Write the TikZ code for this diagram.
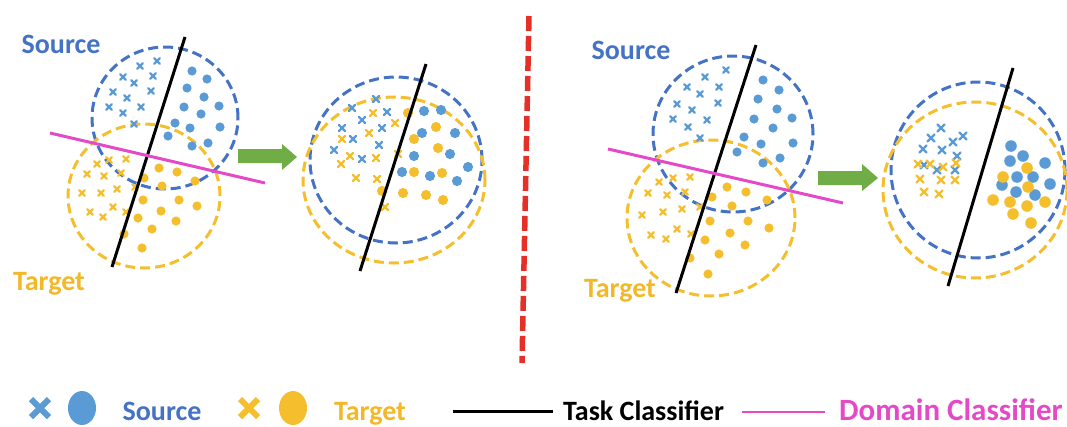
\documentclass[tikz,border=0pt]{standalone}
\usepackage{fontspec}
\setmainfont{Carlito}
\definecolor{ringblue}{RGB}{68,114,196}
\definecolor{srcblue}{RGB}{91,155,213}
\definecolor{tgtyellow}{RGB}{245,190,45}
\definecolor{txtyellow}{RGB}{242,184,40}
\definecolor{domainpink}{RGB}{228,74,200}
\definecolor{arrowgreen}{RGB}{112,173,71}
\definecolor{splitred}{RGB}{228,48,40}
% x marks and filled dots from a list of points
\newcommand\xmarks[3]{\foreach \cx/\cy in {#3}
  \draw[#1, line width=2.2pt, line cap=round] (\cx-#2,\cy-#2) -- (\cx+#2,\cy+#2) (\cx-#2,\cy+#2) -- (\cx+#2,\cy-#2);}
\newcommand\markdots[3]{\foreach \cx/\cy in {#3}
  \fill[#1] (\cx,\cy) circle[radius=#2pt];}
\begin{document}
\begin{tikzpicture}[x=1pt,y=-1pt,
    title/.style={font=\fontsize{28}{30}\selectfont\bfseries, anchor=base, inner sep=0pt},
    srcring/.style={ringblue, dash pattern=on 10pt off 5pt, line width=3pt},
    tgtring/.style={tgtyellow, dash pattern=on 10pt off 5pt, line width=3pt},
    taskline/.style={black, line width=3pt},
    domline/.style={domainpink, line width=3pt},
    shiftarrow/.style={fill=arrowgreen}
  ]
  \useasboundingbox (0,0) rectangle (1067,426);
  \clip (0,0) rectangle (1067,426);

  % before alignment, task classifier only
  \draw[srcring] (165,118) ellipse [x radius=73pt, y radius=71pt];
  \draw[tgtring] (144,196) ellipse [x radius=76pt, y radius=72pt];
  \xmarks{srcblue}{2.8}{157/61,140/66,123/77,153/76,134/83,113/92,127/98,151/91,109/107,141/107,123/113,134/124}
  \markdots{srcblue}{4.6}{192/71,207/79,187/88,204/97,184/107,219/106,201/114,175/123,190/128,220/127,168/136,192/146,208/143}
  \xmarks{tgtyellow}{2.8}{97/164,109/160,126/159,87/174,104/176,121/173,82/193,101/193,117/189,135/187,90/212,103/217,113/207,126/212}
  \markdots{tgtyellow}{4.6}{144/178,159/168,177/172,195/181,162/186,143/200,179/200,197/206,161/211,138/218,176/221,152/229,124/234,142/248}
  \draw[taskline] (185,37) -- (112,267);
  \draw[domline] (50,133) -- (265,183);
  \node[title, ringblue] (srcA) at (61,53) {Source};
  \node[title, txtyellow] (tgtA) at (49,290) {Target};

  \fill[shiftarrow] (238,149) -- (282,149) -- (282,144) -- (297,157) -- (282,170) -- (282,163) -- (238,163) -- cycle;

  % after alignment
  \draw[srcring] (396,160) ellipse [x radius=86pt, y radius=83pt];
  \draw[tgtring] (394,180) ellipse [x radius=91pt, y radius=83pt];
  \xmarks{srcblue}{3.2}{376/99,352/108,387/112,362/120,342/128,382/128,353/139,334/150,379/145,362/159}
  \xmarks{tgtyellow}{3.2}{373/113,395/123,369/133,342/139,350/156,341/164,376/158,398/154,356/178,377/179,385/207}
  \markdots{srcblue}{5.1}{424/111,441/110,422/133,455/133,414/156,450/154,402/172,430/176,468/167,457/181}
  \markdots{tgtyellow}{5.1}{408/113,436/127,414/139,438/148,414/172,442/173,382/191,403/193,426/195,443/200}
  \draw[taskline] (426,64) -- (360,271);

  \draw[splitred, line width=5.5pt, dash pattern=on 15pt off 5pt] (529,16) -- (522,363);

  % with domain classifier, before alignment
  \draw[srcring] (733,134) ellipse [x radius=80pt, y radius=78pt];
  \draw[tgtring] (711,218) ellipse [x radius=84pt, y radius=78pt];
  \xmarks{srcblue}{2.8}{726/70,705/77,687/87,719/87,700/94,677/104,718/103,692/110,673/119,707/120,688/127,700/138}
  \markdots{srcblue}{4.6}{763/80,779/90,758/99,777/109,754/119,792/118,773/128,744/137,761/144,793/143,737/152,763/163,780/158}
  \xmarks{tgtyellow}{2.8}{659/182,673/178,690/177,648/193,667/195,685/192,642/215,663/212,682/209,700/207,651/235,666/239,677/229,691/234}
  \markdots{tgtyellow}{4.6}{712/197,727/187,746/192,767/200,732/206,710/221,748/221,769/228,730/233,705/240,745/245,719/254,690/258,708/274}
  \draw[taskline] (756,45) -- (676,293);
  \draw[domline] (608,149) -- (843,203);
  \node[title, ringblue] (srcB) at (631,59) {Source};
  \node[title, txtyellow] (tgtB) at (620,297) {Target};

  \fill[shiftarrow] (818,171) -- (862,171) -- (862,164) -- (878,178) -- (862,191) -- (862,185) -- (818,185) -- cycle;

  % aligned domains
  \draw[srcring] (978,170) ellipse [x radius=87pt, y radius=88pt];
  \draw[tgtring] (975,190) ellipse [x radius=92pt, y radius=88pt];
  \xmarks{srcblue}{3.6}{941/128,931/138,953/142,963/136,923/149,942/150,957/156,924/165,937/170,955/170}
  \xmarks{tgtyellow}{3.6}{918/164,930/164,943/167,956/163,920/179,941/180,955/180,924/192,939/194}
  \markdots{srcblue}{5.8}{1011/146,1023/156,1010/161,1045/163,1017/177,1033/177,1002/185,1050/184,1016/192,1035/195}
  \markdots{tgtyellow}{5.8}{1027/168,1003/177,1028/187,993/200,1010/202,1027/206,1045/202,1013/214,1031/223}
  \draw[taskline] (1013,68) -- (948,286);

  % legend
  \draw[srcblue, line width=6pt] (31,399) -- (49,417) (31,417) -- (49,399);
  \fill[srcblue] (82,408) ellipse [x radius=14pt, y radius=17pt];
  \node[title, ringblue] (srcKey) at (162,420) {Source};
  \draw[tgtyellow, line width=6pt] (240,399) -- (258,417) (240,417) -- (258,399);
  \fill[tgtyellow] (293,408) ellipse [x radius=14pt, y radius=17pt];
  \node[title, txtyellow] (tgtKey) at (370,420) {Target};
  \coordinate (taskL) at (453,411);
  \node[title, anchor=base west] (taskKey) at (563,420) {Task Classifier};
  \draw[taskline] (taskL) -- ([xshift=-10pt]taskL -| taskKey.west);
  \coordinate (domL) at (742,412);
  \node[title, anchor=base west, domainpink, font=\fontsize{31}{32}\selectfont\bfseries] (domKey) at (839,420) {Domain Classifier};
  \draw[domline, line width=2.5pt] (domL) -- ([xshift=-14pt]domL -| domKey.west);
\end{tikzpicture}
\end{document}
